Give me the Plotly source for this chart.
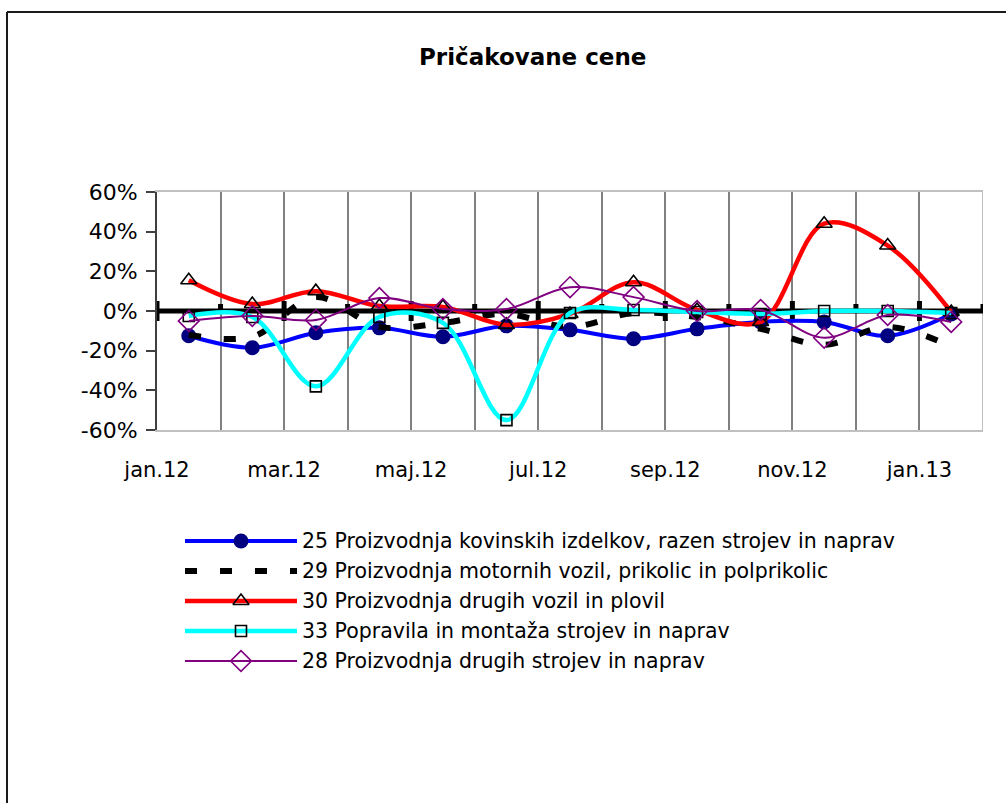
import plotly.graph_objects as go

# ---------------- data ----------------
months = ["jan.12", "feb.12", "mar.12", "apr.12", "maj.12", "jun.12", "jul.12",
          "avg.12", "sep.12", "okt.12", "nov.12", "dec.12", "jan.13"]

s25 = [-12.5, -18.5, -11, -8.5, -13, -7.5, -9.5, -14, -9, -5.5, -5.5, -12.5, -1.5]
s29 = [-12, -13, 7, -8, -6, -1.5, -8, -1, -3, -9, -17, -8, -18]
s30 = [15.5, 3.5, 10, 2.5, 2, -7, -1.5, 14.5, 0.5, -5.5, 44, 33, -0.5]
s33 = [-2.5, -3, -38, -3, -6, -55, -1, 0.5, -0.5, -1.5, 0, 0, -1]
s28 = [-5, -2.5, -4.5, 6.5, 1, 1, 12, 7, 0, 0.5, -13.5, -2, -5.5]

series_names = [
    "25 Proizvodnja kovinskih izdelkov, razen strojev in naprav",
    "29 Proizvodnja motornih vozil, prikolic in polprikolic",
    "30 Proizvodnja drugih vozil in plovil",
    "33 Popravila in montaža strojev in naprav",
    "28 Proizvodnja drugih strojev in naprav",
]
series_values = [s25, s29, s30, s33, s28]

y_ticks = [-60, -40, -20, 0, 20, 40, 60]
y_tick_labels = [f"{v}%" for v in y_ticks]

title_text = "Pričakovane cene"

# ---------------- styles ----------------
FONT = "DejaVu Sans"
W, H = 1006, 803
styles = [
    dict(line=dict(color="#0000FF", width=4), marker=dict(symbol="circle", size=15, color="#000080")),
    dict(line=dict(color="#000000", width=6, dash="12px,23px"), marker=None),
    dict(line=dict(color="#FF0000", width=4.5), marker=dict(symbol="triangle-up-open", size=14, color="#000000", line=dict(width=1.6))),
    dict(line=dict(color="#00FFFF", width=4.5), marker=dict(symbol="square-open", size=11, color="#000000", line=dict(width=1.6))),
    dict(line=dict(color="#800080", width=2), marker=dict(symbol="diamond-open", size=16, color="#800080", line=dict(width=1.6))),
]

n = len(months)
xpos = [i + 0.5 for i in range(n)]

fig = go.Figure()

for name, vals, st in zip(series_names, series_values, styles):
    kw = dict(x=xpos, y=vals, name=name, showlegend=False,
              line=dict(shape="spline", smoothing=1.0, **st["line"]))
    if st["marker"] is None:
        kw["mode"] = "lines"
    else:
        kw["mode"] = "lines+markers"
        kw["marker"] = st["marker"]
    fig.add_trace(go.Scatter(**kw))

# ---------------- main axes (plot area pixels 157..983 x 192..430) ----------------
px_l, px_r, px_t, px_b = 157, 983, 192, 430
fig.update_layout(
    width=W, height=H,
    margin=dict(l=0, r=0, t=0, b=0),
    paper_bgcolor="white", plot_bgcolor="rgba(0,0,0,0)",
    font=dict(family=FONT, size=21, color="black"),
    xaxis=dict(
        domain=[px_l / W, px_r / W], range=[0, n],
        tickmode="array", tickvals=list(range(n)),
        ticktext=[months[i] if i % 2 == 0 else "" for i in range(n)],
        tickfont=dict(size=21),
        showgrid=True, gridcolor="#808080", gridwidth=1.5,
        showline=True, linecolor="#c0c0c0", linewidth=2, mirror=True,
        ticks="outside", ticklen=20, tickcolor="rgba(0,0,0,0)",
        zeroline=False, automargin=False, fixedrange=True,
    ),
    yaxis=dict(
        domain=[1 - px_b / H, 1 - px_t / H], range=[-60, 60],
        tickmode="array", tickvals=y_ticks, ticktext=y_tick_labels,
        tickfont=dict(size=22), ticklabelstandoff=4,
        showgrid=False, zeroline=False,
        showline=True, linecolor="#404040", linewidth=2,
        ticks="outside", ticklen=9, tickcolor="#404040", tickwidth=1.5,
        automargin=False, fixedrange=True,
    ),
    # pixel-space overlay axes for legend / decorations
    xaxis2=dict(domain=[0, 1], range=[0, W], visible=False, fixedrange=True),
    yaxis2=dict(domain=[0, 1], range=[H, 0], visible=False, fixedrange=True),
)

shapes = []
# right border of the plot area
shapes.append(dict(type="line", xref="x", yref="y", x0=n, x1=n, y0=-60, y1=60,
                   line=dict(color="#c0c0c0", width=2), layer="between"))
# thick x axis at zero with tick marks
shapes.append(dict(type="line", xref="x", yref="y", x0=0, x1=n, y0=0, y1=0,
                   line=dict(color="black", width=5), layer="between"))
for i in range(n + 1):
    if i % 2 == 0:
        y0, y1 = -10, 10
    else:
        y0, y1 = 0, 7
    shapes.append(dict(type="line", xref="x", yref="y", x0=i, x1=i,
                       ysizemode="pixel", yanchor=0, y0=y0, y1=y1,
                       line=dict(color="black", width=5), layer="between"))
# outer chart border
shapes.append(dict(type="line", xref="x2", yref="y2", x0=7, x1=7, y0=12, y1=H + 5,
                   line=dict(color="#1a1a1a", width=2)))
shapes.append(dict(type="line", xref="x2", yref="y2", x0=7, x1=W + 5, y0=12, y1=12,
                   line=dict(color="#1a1a1a", width=2)))
fig.update_layout(shapes=shapes)

annotations = [dict(text=f"<b>{title_text}</b>", xref="x2", yref="y2", x=532, y=57,
                    showarrow=False, xanchor="center", yanchor="middle",
                    font=dict(family=FONT, size=23, color="black"))]

# ---------------- manual legend ----------------
leg_x0, leg_x1, leg_text_x = 185, 297, 300
leg_rows = [541, 571, 601, 631, 661]
for name, st, yy in zip(series_names, styles, leg_rows):
    fig.add_trace(go.Scatter(x=[leg_x0, leg_x1], y=[yy, yy], xaxis="x2", yaxis="y2",
                             mode="lines", line=st["line"], showlegend=False, hoverinfo="skip"))
    if st["marker"] is not None:
        fig.add_trace(go.Scatter(x=[(leg_x0 + leg_x1) / 2], y=[yy], xaxis="x2", yaxis="y2",
                                 mode="markers", marker=st["marker"], showlegend=False, hoverinfo="skip"))
    annotations.append(dict(text=name, xref="x2", yref="y2", x=leg_text_x, y=yy,
                            showarrow=False, xanchor="left", yanchor="middle",
                            font=dict(family=FONT, size=20.5, color="black")))
fig.update_layout(annotations=annotations)

fig.write_html("out.html", config={"displayModeBar": False},
               post_script="document.body.style.margin='0';document.body.style.overflow='hidden';")
